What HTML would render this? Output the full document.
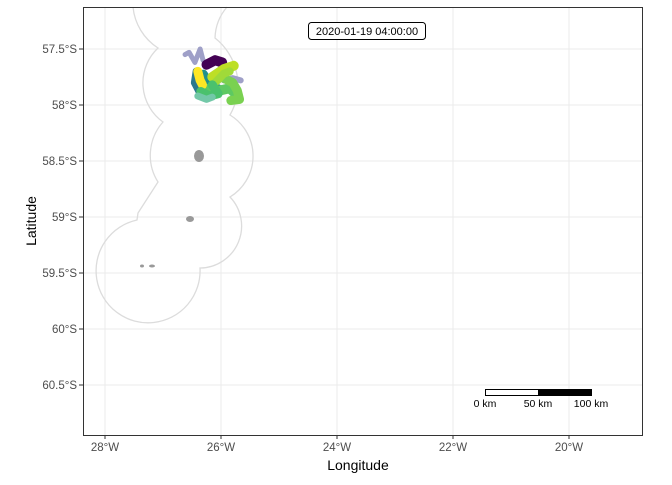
<!DOCTYPE html>
<html><head><meta charset="utf-8"><style>
body{margin:0;background:#fff;font-family:"Liberation Sans",sans-serif}
svg text{font-family:"Liberation Sans",sans-serif}
</style></head><body>
<svg id="c" width="672" height="480" xmlns="http://www.w3.org/2000/svg">
<g id="grid"></g>
<path fill="none" stroke="#dcdcdc" stroke-width="1.3"
d="M133,7 A55,55 0 0 0 158,48 A48,48 0 0 0 163,122 A50,50 0 0 0 158,182 L138,213 L137,220 A52,52 0 1 0 200,268 A42,42 0 0 0 230,197 A48,48 0 0 0 230,115 A60,60 0 0 0 215,38 A50,50 0 0 1 227,7"/>
<g fill="#999">
<ellipse cx="199" cy="156" rx="5" ry="6"/><ellipse cx="190" cy="219" rx="4" ry="3"/>
<ellipse cx="142" cy="266" rx="2" ry="1.5"/><ellipse cx="152" cy="266" rx="3" ry="1.5"/>
</g>
<g id="tracks"></g>
<g id="axes"></g>
<rect x="83.5" y="7.5" width="559" height="428" fill="none" stroke="#333" stroke-width="1"/>
<g>
<rect x="308.5" y="22.5" width="117" height="17" rx="3" fill="#fff" stroke="#000"/>
<text x="367" y="35" font-size="11" text-anchor="middle">2020-01-19 04:00:00</text>
</g>
<g>
<rect x="485.5" y="389.5" width="53" height="6" fill="#fff" stroke="#000"/>
<rect x="538.5" y="389.5" width="53" height="6" fill="#000" stroke="#000"/>
<text x="485" y="407" font-size="10.5" text-anchor="middle">0 km</text>
<text x="538" y="407" font-size="10.5" text-anchor="middle">50 km</text>
<text x="591" y="407" font-size="10.5" text-anchor="middle">100 km</text>
</g>
<text x="358" y="470" font-size="14" text-anchor="middle">Longitude</text>
<text x="36" y="221" font-size="14" text-anchor="middle" transform="rotate(-90 36 221)">Latitude</text>
</svg>
<script>
const xTicks=[-28,-26,-24,-22,-20];
const xTickLabels=["28°W","26°W","24°W","22°W","20°W"];
const yTicks=[-57.5,-58,-58.5,-59,-59.5,-60,-60.5];
const yTickLabels=["57.5°S","58°S","58.5°S","59°S","59.5°S","60°S","60.5°S"];
const trackColors=["#9fa0c8","#9fa0c8","#440154","#2a788e","#21908d","#5ec962","#7ad151","#bddf26","#a0da39","#fde725","#4ac16d","#73c8a8"];
const trackWidths=[5,6,10,8,8,10,9,10,8,9,9,7];
const trackLons=[
[-26.62,-26.55,-26.45,-26.36,-26.31,-26.24],
[-25.95,-25.80,-25.66],
[-26.25,-26.10,-25.98],
[-26.42,-26.45,-26.35,-26.22],
[-26.30,-26.20,-26.05],
[-26.30,-26.10,-25.85,-25.75],
[-26.00,-25.80,-25.72,-25.68,-25.83],
[-26.15,-25.95,-25.78],
[-26.10,-25.95,-25.85],
[-26.40,-26.36,-26.32],
[-26.35,-26.20,-26.05,-26.15],
[-26.40,-26.25,-26.15]];
const trackLats=[
[-57.55,-57.53,-57.62,-57.50,-57.60,-57.64],
[-57.78,-57.76,-57.78],
[-57.64,-57.60,-57.62],
[-57.70,-57.80,-57.90,-57.92],
[-57.72,-57.80,-57.85],
[-57.85,-57.88,-57.85,-57.90],
[-57.75,-57.80,-57.87,-57.95,-57.96],
[-57.75,-57.68,-57.65],
[-57.80,-57.72,-57.70],
[-57.70,-57.78,-57.82],
[-57.88,-57.92,-57.90,-57.82],
[-57.92,-57.95,-57.93]];
function xs(lon){return 221+(lon+26)*58;}
function ys(lat){return 105-(lat+58)*112;}
const NS="http://www.w3.org/2000/svg";
function mk(t,a,p){const e=document.createElementNS(NS,t);for(const k in a)e.setAttribute(k,a[k]);p.appendChild(e);return e;}
const grid=document.getElementById('grid'),axes=document.getElementById('axes'),tr=document.getElementById('tracks');
xTicks.forEach((v,i)=>{const x=xs(v);
const g=mk('line',{x1:x,x2:x,y1:7,y2:435,stroke:'#ebebeb','stroke-width':1},grid);


const tk=mk('line',{x1:x,x2:x,y1:435,y2:439,stroke:'#333'},axes);


const t=mk('text',{x:x,y:451,'font-size':11.5,'text-anchor':'middle',fill:'#4d4d4d'},axes);t.textContent=xTickLabels[i];

});
yTicks.forEach((v,i)=>{const y=ys(v);
const g=mk('line',{x1:83,x2:642,y1:y,y2:y,stroke:'#ebebeb','stroke-width':1},grid);


const tk=mk('line',{x1:79,x2:83,y1:y,y2:y,stroke:'#333'},axes);


const t=mk('text',{x:77,y:y+4,'font-size':11.5,'text-anchor':'end',fill:'#4d4d4d'},axes);t.textContent=yTickLabels[i];

});
trackLons.forEach((lons,i)=>{const pts=lons.map((l,j)=>xs(l)+','+ys(trackLats[i][j])).join(' ');
const p=mk('polyline',{points:pts,fill:'none',stroke:trackColors[i],'stroke-width':trackWidths[i],'stroke-linecap':'round','stroke-linejoin':'round'},tr);

});
</script>
</body></html>
